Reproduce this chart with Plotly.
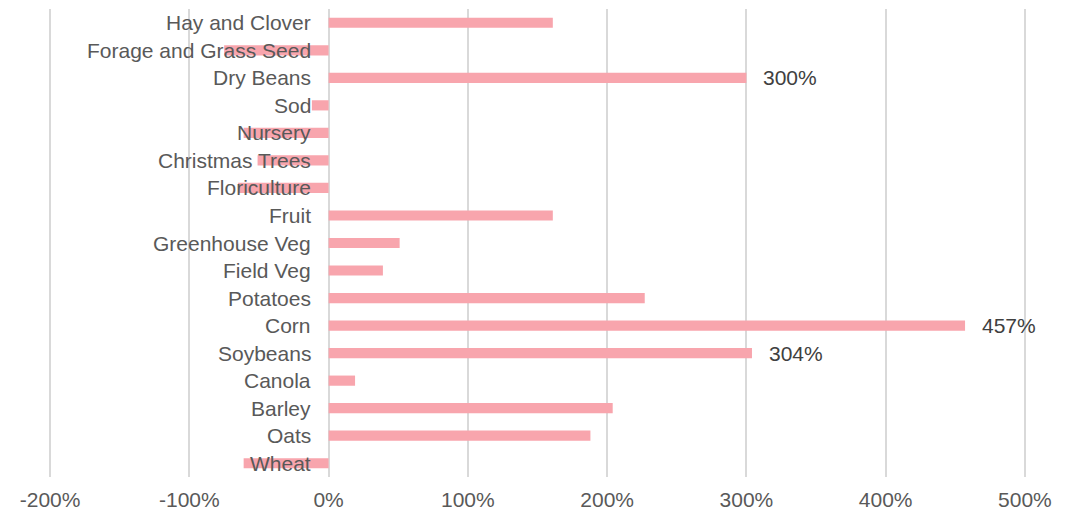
import plotly.graph_objects as go

categories = ["Hay and Clover", "Forage and Grass Seed", "Dry Beans", "Sod", "Nursery",
              "Christmas Trees", "Floriculture", "Fruit", "Greenhouse Veg", "Field Veg",
              "Potatoes", "Corn", "Soybeans", "Canola", "Barley", "Oats", "Wheat"]
values = [1.61, -0.75, 3.00, -0.12, -0.61, -0.51, -0.65, 1.61, 0.51, 0.39,
          2.27, 4.57, 3.04, 0.19, 2.04, 1.88, -0.61]
data_labels = ["", "", "300%", "", "", "", "", "", "", "", "", "457%", "304%", "", "", "", ""]
x_tick_vals = [-2, -1, 0, 1, 2, 3, 4, 5]
x_tick_text = ["-200%", "-100%", "0%", "100%", "200%", "300%", "400%", "500%"]

BAR = "#F8A5AD"
FONT = "Liberation Sans, Arial, sans-serif"
FS = 21

fig = go.Figure(go.Bar(
    x=values, y=categories, orientation="h",
    marker=dict(color=BAR, line=dict(width=0)),
    hoverinfo="skip",
))

annotations = []
for c in categories:
    annotations.append(dict(x=0, y=c, xref="x", yref="y", text=c, showarrow=False,
                            xanchor="right", yanchor="middle", xshift=-16,
                            font=dict(family=FONT, size=FS, color="#595959")))
for c, v, t in zip(categories, values, data_labels):
    if t:
        annotations.append(dict(x=v, y=c, xref="x", yref="y", text=t, showarrow=False,
                                xanchor="left", yanchor="middle", xshift=15,
                                font=dict(family=FONT, size=FS, color="#404040")))

# page body has an 8px default margin; size the figure to fit the 1079x513 window
fig.update_layout(
    width=1071, height=505,
    margin=dict(l=39, r=51, t=1, b=36),
    paper_bgcolor="white", plot_bgcolor="white",
    bargap=0.63,
    showlegend=False,
    font=dict(family=FONT, size=FS, color="#595959"),
    annotations=annotations,
)
fig.update_xaxes(range=[-2.022, 5.022], tickvals=x_tick_vals, ticktext=x_tick_text,
                 automargin=False, ticklabelstandoff=8,
                 showgrid=True, gridcolor="#D9D9D9", gridwidth=2,
                 zeroline=True, zerolinecolor="#D9D9D9", zerolinewidth=2,
                 showline=False, ticks="",
                 tickfont=dict(family=FONT, size=FS, color="#595959"))
fig.update_yaxes(autorange="reversed", showticklabels=False, showgrid=False,
                 automargin=False,
                 zeroline=False, showline=False, ticks="")

fig.write_html("out.html")
